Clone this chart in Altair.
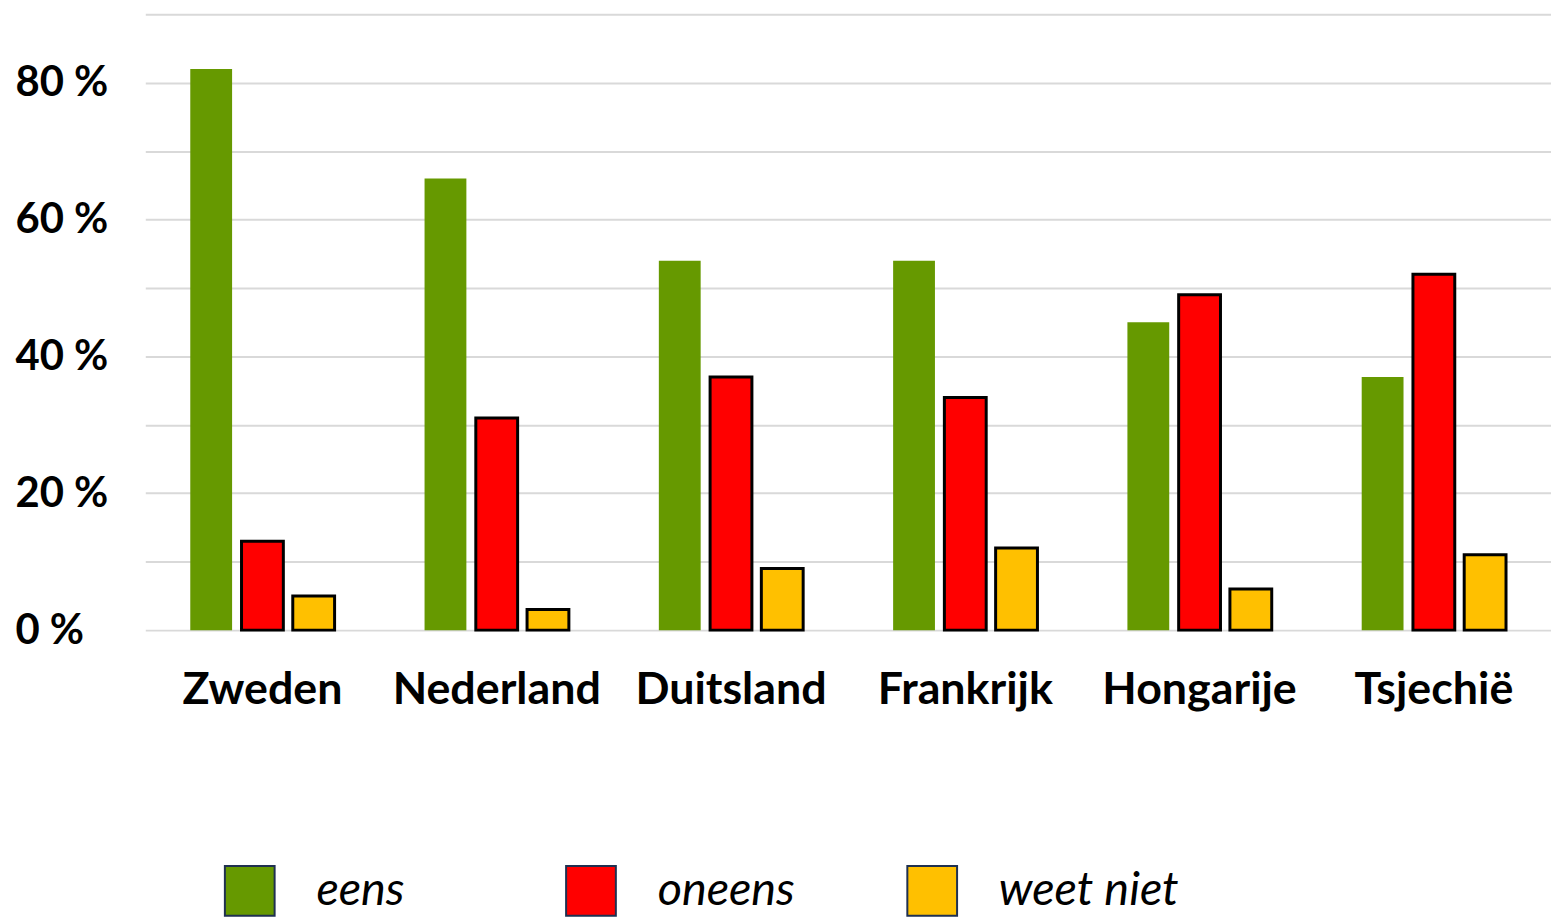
import altair as alt
import pandas as pd

countries = ["Zweden", "Nederland", "Duitsland", "Frankrijk", "Hongarije", "Tsjechië"]
series = ["eens", "oneens", "weet niet"]
eens = [82, 66, 54, 54, 45, 37]
oneens = [13, 31, 37, 34, 49, 52]
weet_niet = [5, 3, 9, 12, 6, 11]
colors = ["#669900", "#ff0000", "#ffc000"]
y_ticks = [0, 10, 20, 30, 40, 50, 60, 70, 80, 90]

rows = []
for s, vals in zip(series, [eens, oneens, weet_niet]):
    for c, v in zip(countries, vals):
        rows.append({"land": c, "antwoord": s, "pct": v})
df = pd.DataFrame(rows)

FONT = "Lato"

bars = alt.Chart(df).mark_bar(stroke="black", strokeJoin="miter").encode(
    x=alt.X(
        "land:N",
        sort=countries,
        scale=alt.Scale(paddingInner=0.384, paddingOuter=0.192),
        axis=alt.Axis(
            title=None, labelAngle=0, labelFont=FONT, labelFontWeight="bold",
            labelFontSize=45, labelColor="black", labelPadding=38, ticks=False,
            tickSize=0, domain=False, grid=False, labelLimit=400,
        ),
    ),
    xOffset=alt.XOffset(
        "antwoord:N", sort=series,
        scale=alt.Scale(paddingInner=0.184, paddingOuter=0),
    ),
    y=alt.Y(
        "pct:Q",
        scale=alt.Scale(domain=[0, 90], nice=False),
        axis=alt.Axis(
            values=y_ticks, title=None,
            labelExpr="datum.value % 20 == 0 ? datum.value + ' %' : ''",
            grid=True, gridColor="#d9d9d9", gridWidth=2, ticks=False, tickSize=0,
            domain=False, labelAlign="left", labelPadding=131, labelFont=FONT,
            labelFontWeight="bold", labelFontSize=42, labelColor="black",
        ),
    ),
    fill=alt.Fill(
        "antwoord:N", sort=series,
        scale=alt.Scale(domain=series, range=colors),
        legend=alt.Legend(
            title=None, orient="none", legendX=79, legendY=855,
            direction="horizontal", columns=3, gridAlign="all", symbolType="square",
            symbolSize=2500, symbolStrokeColor="#1f3050", symbolStrokeWidth=2,
            labelFont=FONT, labelFontStyle="italic", labelFontSize=47,
            labelColor="black", labelOffset=41, columnPadding=66, padding=0,
            symbolOpacity=1, labelLimit=400,
        ),
    ),
    strokeWidth=alt.condition("datum.antwoord == 'eens'", alt.value(0), alt.value(3)),
)

chart = bars.properties(
    width=1413,
    height=619,
    background="white",
    autosize=alt.AutoSizeParams(type="none"),
    padding={"left": 138, "top": 4, "right": 0, "bottom": 286},
).configure_view(strokeWidth=0, stroke=None).configure_axis(domain=False)

chart.save("out.html", embed_options={"renderer": "svg", "actions": False})
